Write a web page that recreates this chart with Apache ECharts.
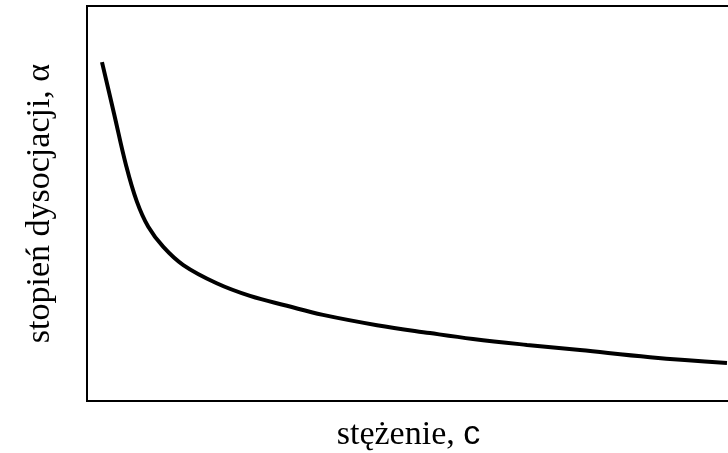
<!DOCTYPE html>
<html>
<head>
<meta charset="utf-8">
<script src="https://cdn.jsdelivr.net/npm/echarts@6/dist/echarts.min.js"></script>
<style>
html, body { margin: 0; padding: 0; background: #fff; }
#myChart { width: 728px; height: 453px; }
</style>
</head>
<body>
<div id="myChart"></div>
<script>
// stężenie (arbitrary units) and stopień dysocjacji
const conc = [2.33, 4.20, 6.07, 7.73, 9.53, 11.87, 14.98, 20.17, 25.35, 31.10, 36.70, 45.10, 53.34, 60.03, 68.43, 76.67, 87.56, 99.53]
const alpha = [85.8, 72.8, 59.7, 50.6, 44.1, 39.0, 34.4, 29.8, 26.6, 24.1, 21.8, 19.2, 17.2, 15.7, 14.2, 12.9, 11.1, 9.6]

const myChart = echarts.init(document.getElementById('myChart'))

const option = {
	animation: false,
	grid: {
		left: 87, right: -2, top: 6, bottom: 52,
		containLabel: false, outerBoundsMode: 'none',
		show: true, borderColor: '#000', borderWidth: 2, backgroundColor: '#fff'
	},
	xAxis: {
		type: 'value', min: 0, max: 100,
		axisLine: { show: false }, axisTick: { show: false },
		axisLabel: { show: false }, splitLine: { show: false },
		name: '{a|stężenie, }{b|c}',
		nameLocation: 'middle',
		nameGap: 17,
		nameTextStyle: {
			rich: {
				a: { fontFamily: 'Liberation Serif', fontSize: 34, color: '#000' },
				b: { fontFamily: 'Liberation Sans', fontSize: 34, color: '#000' }
			}
		}
	},
	yAxis: {
		type: 'value', min: 0, max: 100,
		axisLine: { show: false }, axisTick: { show: false },
		axisLabel: { show: false }, splitLine: { show: false },
		name: 'stopień dysocjacji, α',
		nameLocation: 'middle',
		nameGap: 30,
		nameTextStyle: { fontFamily: 'Liberation Serif', fontSize: 34, color: '#000' }
	},
	series: [{
		type: 'line',
		data: conc.map((c, i) => [c, alpha[i]]),
		smooth: 0.4,
		showSymbol: false,
		lineStyle: { color: '#000', width: 4 }
	}]
}

myChart.setOption(option)
</script>
</body>
</html>
